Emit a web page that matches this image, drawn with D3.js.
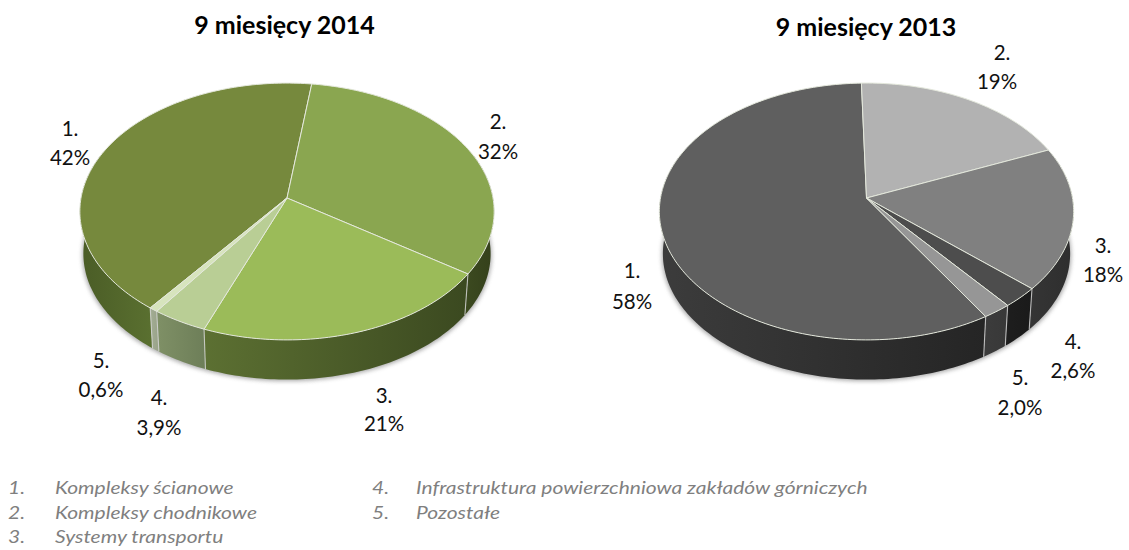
<!DOCTYPE html>
<html><head><meta charset="utf-8">
<script src="https://cdn.jsdelivr.net/npm/d3@7/dist/d3.min.js"></script>
<style>html,body{margin:0;padding:0;background:#fff}svg{display:block}</style>
</head><body><svg id="c" width="1129" height="550"></svg>
<script>
const values2014 = [41.7, 32.4, 21.4, 3.9, 0.6];
const values2013 = [58.4, 19.0, 18.0, 2.6, 2.0];
const labels2014 = ["42%", "32%", "21%", "3,9%", "0,6%"];
const labels2013 = ["58%", "19%", "18%", "2,6%", "2,0%"];
const numbers = ["1.", "2.", "3.", "4.", "5."];
const legendLeft = [["1.", "Kompleksy ścianowe"], ["2.", "Kompleksy chodnikowe"], ["3.", "Systemy transportu"]];
const legendRight = [["4.", "Infrastruktura powierzchniowa zakładów górniczych"], ["5.", "Pozostałe"]];
const topColors2014 = ["#76893d", "#8aa650", "#9bbb59", "#b9ce95", "#d7e4bd"];
const topColors2013 = ["#5f5f5f", "#b2b2b2", "#808080", "#4d4d4d", "#969696"];
const wallColors2014 = [["#4a5c26","#5a7030"],["#3c4a20","#34401b"],["#5c7032","#3b4920"],["#7f9066","#6d7e58"],["#a3ad94","#98a288"]];
const wallColors2013 = [["#3c3c3c","#252525"],["#333","#333"],["#353535","#2e2e2e"],["#1e1e1e","#1a1a1a"],["#3c3c3c","#383838"]];

const svg = d3.select("#c");
const defs = svg.append("defs");
defs.append("filter").attr("id","soft").attr("x","-10%").attr("y","-10%").attr("width","120%").attr("height","120%")
  .append("feGaussianBlur").attr("stdDeviation",2.2);

const A = 206, B = 127, P = 0.105, BW = 124.5, AW = 202.5, DEPTH = 42.5, APEXY = 198;
const FONT = "Lato, 'Open Sans', sans-serif";

function project(cx, cy, a, b, ang){
  const u = Math.sin(ang), v = -Math.cos(ang), s = 1/(1-P*v);
  return [cx + a*u*s, cy + b*v*s];
}
const line = d3.line();
function samples(a0, a1){
  const n = Math.max(2, Math.ceil((a1-a0)/0.02));
  return d3.range(n+1).map(i => a0 + (a1-a0)*i/n);
}

function drawPie(id, cx, values, startDeg, tops, walls){
  const g = svg.append("g");
  const rad = Math.PI/180;
  const pie = d3.pie().sort(null).startAngle(startDeg*rad).endAngle((startDeg+360)*rad);
  const arcs = pie(values);
  const topPt = a => project(cx, APEXY, A, B, a);
  const botPt = a => project(cx, APEXY+DEPTH, AW, BW, a);

  g.append("path").attr("fill","#8c8c8c").attr("opacity",0.75).attr("filter","url(#soft)")
    .attr("d", line(samples(0, 2*Math.PI).map(a => project(cx, APEXY+DEPTH+1.5, AW+1, BW, a)))+"Z");

  const lo = 70*rad, hi = 290*rad;
  const pieces = [];
  arcs.forEach((d,i) => {
    [0, 2*Math.PI, -2*Math.PI].forEach(k => {
      const a0 = Math.max(d.startAngle+k, lo), a1 = Math.min(d.endAngle+k, hi);
      if (a1 > a0) pieces.push({a0, a1, i});
    });
  });
  pieces.sort((p,q) => Math.abs(Math.PI-(q.a0+q.a1)/2) - Math.abs(Math.PI-(p.a0+p.a1)/2));
  pieces.forEach((w,j) => {
    const pts = samples(w.a0, w.a1);
    const poly = pts.map(topPt).concat(pts.slice().reverse().map(botPt));
    const xs = poly.map(p => p[0]);
    const gid = id+"w"+j;
    const lg = defs.append("linearGradient").attr("id",gid).attr("gradientUnits","userSpaceOnUse")
      .attr("x1",d3.min(xs)).attr("x2",d3.max(xs)).attr("y1",0).attr("y2",0);
    lg.append("stop").attr("offset",0).attr("stop-color",walls[w.i][0]);
    lg.append("stop").attr("offset",1).attr("stop-color",walls[w.i][1]);
    g.append("path").attr("d",line(poly)+"Z").attr("fill",`url(#${gid})`);
  });
  arcs.forEach(d => {
    const a = ((d.startAngle % (2*Math.PI)) + 2*Math.PI) % (2*Math.PI);
    if (a > lo && a < hi) {
      g.append("path").attr("d",line([topPt(a),botPt(a)]))
        .attr("stroke","#d9d9d9").attr("stroke-opacity",0.8).attr("stroke-width",1.1).attr("fill","none");
    }
  });
  arcs.forEach((d,i) => {
    const pts = [[cx,APEXY]].concat(samples(d.startAngle,d.endAngle).map(topPt));
    g.append("path").attr("d",line(pts)+"Z").attr("fill",tops[i])
      .attr("stroke","#e4e8dc").attr("stroke-width",1).attr("stroke-linejoin","round");
  });
}

function drawLabels(items){
  items.forEach(t => {
    svg.append("text").attr("x",t[0]).attr("y",t[1]).attr("text-anchor","middle")
      .attr("font-family",FONT).attr("font-size",20.5).attr("fill","#111").text(t[2]);
  });
}

drawPie("a", 287, values2014, -142.5, topColors2014, wallColors2014);
drawPie("b", 866.5, values2013, 148.2, topColors2013, wallColors2013);

[["9 miesięcy 2014",284.5,34],["9 miesięcy 2013",866,36]].forEach(t => {
  svg.append("text").attr("x",t[1]).attr("y",t[2]).attr("text-anchor","middle")
    .attr("font-family",FONT).attr("font-weight",700).attr("font-size",25).attr("fill","#000").text(t[0]);
});

const pos2014 = [[70,136,70,165],[498,129,498,159],[384,403,384,431],[159,405,159,435],[101,368,101,397]];
const pos2013 = [[632,278,632,309],[1002,60,997,89],[1103,253,1103,282],[1073,349,1073,378],[1020,385,1020,415]];
pos2014.forEach((p,i) => drawLabels([[p[0],p[1],numbers[i]],[p[2],p[3],labels2014[i]]]));
pos2013.forEach((p,i) => drawLabels([[p[0],p[1],numbers[i]],[p[2],p[3],labels2013[i]]]));

const legendY = [494, 519, 543];
function drawLegend(list, xNum, xText){
  list.forEach((r,i) => {
    [[xNum,r[0]],[xText,r[1]]].forEach(c => {
      svg.append("text").attr("transform",`translate(${c[0]},${legendY[i]}) scale(1.18,1)`).attr("font-family",FONT)
        .attr("font-style","italic").attr("font-size",17.8).attr("fill","#7f7f7f").text(c[1]);
    });
  });
}
drawLegend(legendLeft, 8, 55);
drawLegend(legendRight, 372, 416);
</script></body></html>
